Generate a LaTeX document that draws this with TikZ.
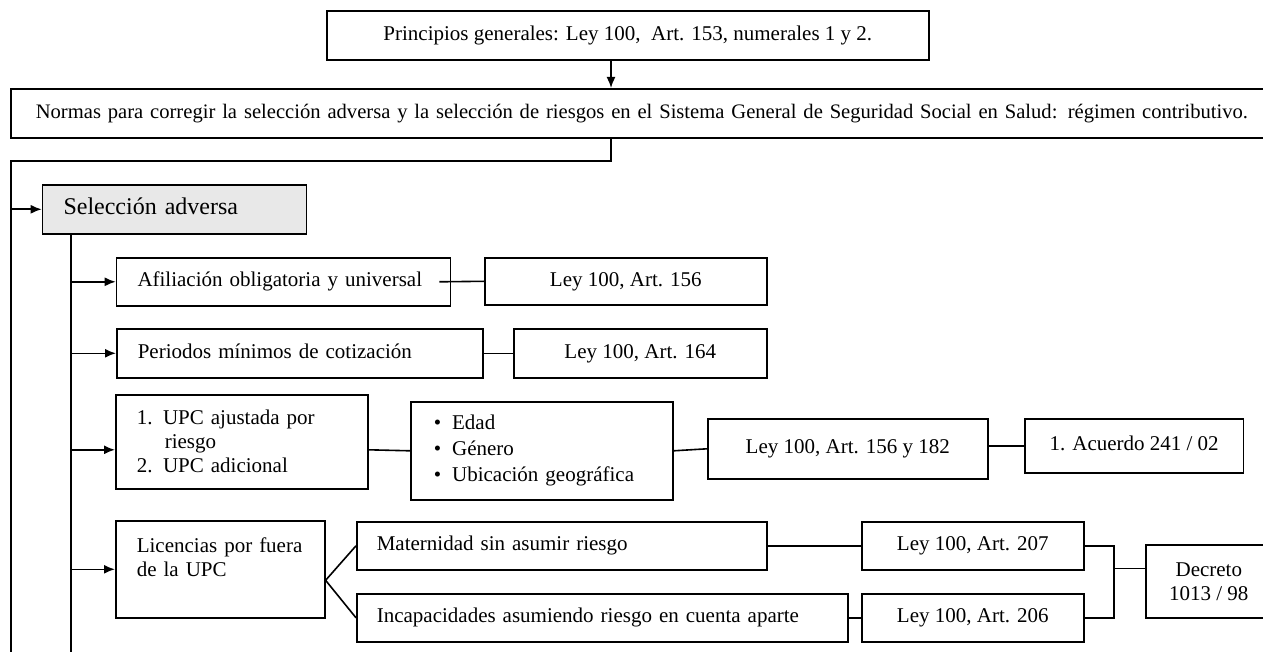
\documentclass[tikz,border=0pt]{standalone}
\usepackage{fontspec}
\setmainfont{Liberation Serif}
\usetikzlibrary{arrows.meta, positioning, calc}
\definecolor{grisclaro}{gray}{0.91}

\begin{document}
\begin{tikzpicture}[
            x = 1pt, y = -1pt, % one unit per pixel, y downwards
            > = {Latex[length=11pt, width=9pt]}, % arrow head style
            line width = 1.6pt % line style
        ]

        \tikzstyle{caja}=[
            draw = black,
            line width = 1.6pt,
            anchor = north west,
            inner xsep = 21pt,
            inner ysep = 0pt,
            align = center,
            font = \fontsize{21}{24}\selectfont
        ]
        \tikzstyle{izq}=[align = left]
        \tikzstyle{linea}=[text height = 14.5pt, text depth = 4.5pt]

        \useasboundingbox (0,0) rectangle (1263,652);

        \node[caja, linea, minimum width=602pt, minimum height=49pt] (prin) at (326,10) {Principios generales: Ley 100,~ Art. 153, numerales 1 y 2.};
        \node[caja, linea, izq, inner xsep=25pt, text width=1240pt, minimum height=49pt, font=\fontsize{20.6}{24}\selectfont] (normas) at (10,88) {Normas para corregir la selección adversa y la selección de riesgos en el Sistema General de Seguridad Social en Salud: régimen contributivo.};
        \node[caja, linea, izq, fill=grisclaro, text width=222pt, minimum height=49pt, font=\fontsize{24}{28}\selectfont] (sel) at (41.7,184) {Selección adversa};

        \node[caja, linea, izq, text width=292pt, minimum height=48pt] (afil) at (115.7,257) {Afiliación obligatoria y universal};
        \node[caja, linea, minimum width=282pt, minimum height=47pt] (l156) at (484,257) {Ley 100, Art. 156};

        \node[caja, linea, izq, text width=324pt, minimum height=49pt] (peri) at (116,328) {Periodos mínimos de cotización};
        \node[caja, linea, minimum width=253pt, minimum height=49pt] (l164) at (513,328) {Ley 100, Art. 164};

        \node[caja, izq, text width=210pt, minimum height=94pt] (upc) at (115,394) {1. UPC ajustada por\\\hspace*{28pt}riesgo\\2. UPC adicional};
        \node[caja, izq, inner xsep=23pt, text width=216pt, minimum height=98pt, font=\fontsize{21}{26}\selectfont] (bul) at (410,401) {\textbullet\hspace{11pt}Edad\\\textbullet\hspace{11pt}Género\\\textbullet\hspace{11pt}Ubicación geográfica};
        \node[caja, linea, minimum width=280pt, minimum height=60pt] (l182) at (707,418) {Ley 100, Art. 156 y 182};
        \node[caja, linea, minimum width=218.7pt, minimum height=54pt] (acu) at (1024,418) {1. Acuerdo 241 / 02};

        \node[caja, izq, text width=167pt, minimum height=97pt] (lic) at (115,520) {Licencias por fuera\\de la UPC\\\mbox{}};
        \node[caja, linea, izq, inner xsep=20pt, text width=370pt, minimum height=48pt] (mat) at (356,521) {Maternidad sin asumir riesgo};
        \node[caja, linea, izq, inner xsep=20pt, text width=451pt, minimum height=48pt] (inc) at (356,593) {Incapacidades asumiendo riesgo en cuenta aparte};
        \node[caja, linea, minimum width=222pt, minimum height=48pt] (l207) at (861,521) {Ley 100, Art. 207};
        \node[caja, linea, minimum width=222pt, minimum height=48pt] (l206) at (861,593) {Ley 100, Art. 206};
        \node[caja, minimum width=126pt, minimum height=73pt] (dec) at (1145,544) {Decreto\\1013 / 98};

        \coordinate (baja) at (611,161);
        \coordinate (esq) at (10.7,161);
        \coordinate (fin) at (10.7,652);
        \coordinate (eje) at (71,652);
        \coordinate (upcin) at ([yshift=-8pt]upc.west);
        \coordinate (upcout) at ([yshift=-8pt]upc.east);
        \coordinate (abanico) at ([yshift=-11pt]lic.east);
        \coordinate (union) at (1114,568.5);

        \draw[->] (prin.south -| baja) -- (normas.north -| baja);
        \draw (normas.south -| baja) -- (baja) -- (esq) -- (fin);
        \draw[->] (esq |- sel.west) -- (sel.west);
        \draw (sel.south -| eje) -- (eje);

        \draw[->] (eje |- afil.west) -- (afil.west);
        \draw ([xshift=-12pt]afil.east) -- (l156.west);
        \draw[->] (eje |- peri.west) -- (peri.west);
        \draw (peri.east) -- (l164.west);

        \draw[->] (eje |- upcin) -- (upcin);
        \draw (upcout) -- (bul.west);
        \draw (bul.east) -- (l182.west);
        \draw (acu.west -| l182.east) -- (acu.west);

        \draw[->] (eje |- lic.west) -- (lic.west);
        \draw (mat.west) -- (abanico) -- (inc.west);
        \draw (mat.east) -- (l207.west);
        \draw (inc.east) -- (l206.west);
        \draw (l207.east) -| (union) |- (l206.east);
        \draw (union) -- (union -| dec.west);

  \end{tikzpicture}
\end{document}
